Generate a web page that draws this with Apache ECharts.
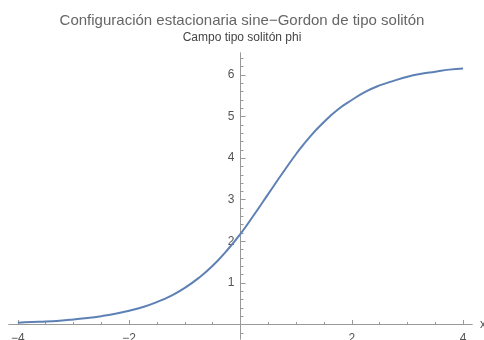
<!DOCTYPE html>
<html>
<head>
<meta charset="utf-8">
<script src="https://cdn.jsdelivr.net/npm/echarts@6/dist/echarts.min.js"></script>
<style>html,body{margin:0;padding:0;background:#fff}#c{width:484px;height:340px}</style>
</head>
<body>
<div id="c"></div>
<script>
// Data
var xValues = [-4,-3.75,-3.5,-3.25,-3,-2.75,-2.5,-2.25,-2,-1.75,-1.5,-1.25,-1,-0.75,-0.5,-0.25,0,0.25,0.5,0.75,1,1.25,1.5,1.75,2,2.25,2.5,2.75,3,3.25,3.5,3.75,4];
var phiValues = [0.04,0.06,0.07,0.09,0.12,0.155,0.20,0.255,0.33,0.42,0.54,0.69,0.88,1.12,1.41,1.77,2.18,2.65,3.14,3.63,4.10,4.52,4.87,5.17,5.40,5.60,5.75,5.86,5.96,6.03,6.08,6.13,6.16];
var xMajorTicks = [-4,-2,2,4];
var xMinorTicks = [-3.5,-3,-2.5,-1.5,-1,-0.5,0.5,1,1.5,2.5,3,3.5];
var yMajorTicks = [1,2,3,4,5,6];
var yMinorTicks = [-0.2,0.2,0.4,0.6,0.8,1.2,1.4,1.6,1.8,2.2,2.4,2.6,2.8,3.2,3.4,3.6,3.8,4.2,4.4,4.6,4.8,5.2,5.4,5.6,5.8,6.2,6.4];
var titleText = 'Configuración estacionaria sine\u2212Gordon de tipo solitón';
var subtitleText = 'Campo tipo solitón phi';

var seriesData = xValues.map(function (x, i) { return [x, phiValues[i]]; });
var font = '"Liberation Sans", Arial, sans-serif';
var axisColor = '#999999';
var labelColor = '#555';
function fmt(v) { return v < 0 ? '\u2212' + Math.abs(v) : String(v); }

var W = 484, H = 340;
var gL = 9, gR = 12, gT = 53, gB = 1;
var xr = { min: -4.16, max: 4.16 };
var yr = { min: -0.35, max: 6.53 };
var xZeroPx = gL + (0 - xr.min) / (xr.max - xr.min) * (W - gL - gR);
var yZeroPx = gT + (yr.max - 0) / (yr.max - yr.min) * (H - gT - gB);

function grid(l, r, t, b) { return { left: l, right: r, top: t, bottom: b, containLabel: false, outerBoundsMode: 'none' }; }
var hidden = { show: false };

var chart = echarts.init(document.getElementById('c'), null, { renderer: 'canvas' });
chart.setOption({
  animation: false,
  backgroundColor: '#fff',
  title: {
    text: titleText,
    subtext: subtitleText,
    left: 'center',
    top: 8,
    itemGap: 4,
    textStyle: { fontSize: 15, fontWeight: 'normal', color: '#666', fontFamily: font },
    subtextStyle: { fontSize: 12, color: '#444', fontFamily: font }
  },
  grid: [
    grid(gL, gR, gT, gB),                 // main: axis lines + major ticks + curve
    grid(gL, gR, gT, gB),                 // minor ticks
    grid(gL, gR, gT, H - yZeroPx),        // x labels along the y=0 line
    grid(xZeroPx, gR, gT, gB)             // y labels along the x=0 line
  ],
  xAxis: [{
    gridIndex: 0, type: 'value', min: xr.min, max: xr.max, position: 'bottom',
    axisLine: { show: true, onZero: true, lineStyle: { color: axisColor, width: 1 } },
    axisTick: { show: true, inside: true, length: 4.5, customValues: xMajorTicks, lineStyle: { color: axisColor } },
    axisLabel: hidden, splitLine: hidden
  }, {
    gridIndex: 1, type: 'value', min: xr.min, max: xr.max, position: 'bottom',
    axisLine: { show: true, onZero: true, lineStyle: { color: axisColor, width: 1 } },
    axisTick: { show: true, inside: true, length: 2.5, customValues: xMinorTicks, lineStyle: { color: axisColor } },
    axisLabel: hidden, splitLine: hidden
  }, {
    gridIndex: 2, type: 'value', min: xr.min, max: xr.max, position: 'bottom',
    name: 'x', nameLocation: 'end', nameGap: 8,
    nameTextStyle: { color: labelColor, fontSize: 12, fontFamily: font },
    axisLine: { show: false, onZero: false }, axisTick: hidden, splitLine: hidden,
    axisLabel: { show: true, customValues: xMajorTicks, formatter: fmt, margin: 8, color: labelColor, fontSize: 12, fontFamily: font }
  }, {
    gridIndex: 3, type: 'value', min: xr.min, max: xr.max, show: false
  }],
  yAxis: [{
    gridIndex: 0, type: 'value', min: yr.min, max: yr.max, position: 'left',
    axisLine: { show: true, onZero: true, lineStyle: { color: axisColor, width: 1 } },
    axisTick: { show: true, inside: true, length: 5, customValues: yMajorTicks, lineStyle: { color: axisColor } },
    axisLabel: hidden, splitLine: hidden
  }, {
    gridIndex: 1, type: 'value', min: yr.min, max: yr.max, position: 'left',
    axisLine: { show: true, onZero: true, lineStyle: { color: axisColor, width: 1 } },
    axisTick: { show: true, inside: true, length: 3, customValues: yMinorTicks, lineStyle: { color: axisColor } },
    axisLabel: hidden, splitLine: hidden
  }, {
    gridIndex: 2, type: 'value', min: yr.min, max: yr.max, show: false
  }, {
    gridIndex: 3, type: 'value', min: yr.min, max: yr.max, position: 'left',
    axisLine: { show: false, onZero: false }, axisTick: hidden, splitLine: hidden,
    axisLabel: { show: true, customValues: yMajorTicks, margin: 6, color: labelColor, fontSize: 12, fontFamily: font }
  }],
  series: [{
    type: 'line',
    xAxisIndex: 0, yAxisIndex: 0,
    data: seriesData,
    smooth: true,
    showSymbol: false,
    lineStyle: { color: '#5e81b5', width: 2 },
    itemStyle: { color: '#5e81b5' }
  }]
});
</script>
</body>
</html>
